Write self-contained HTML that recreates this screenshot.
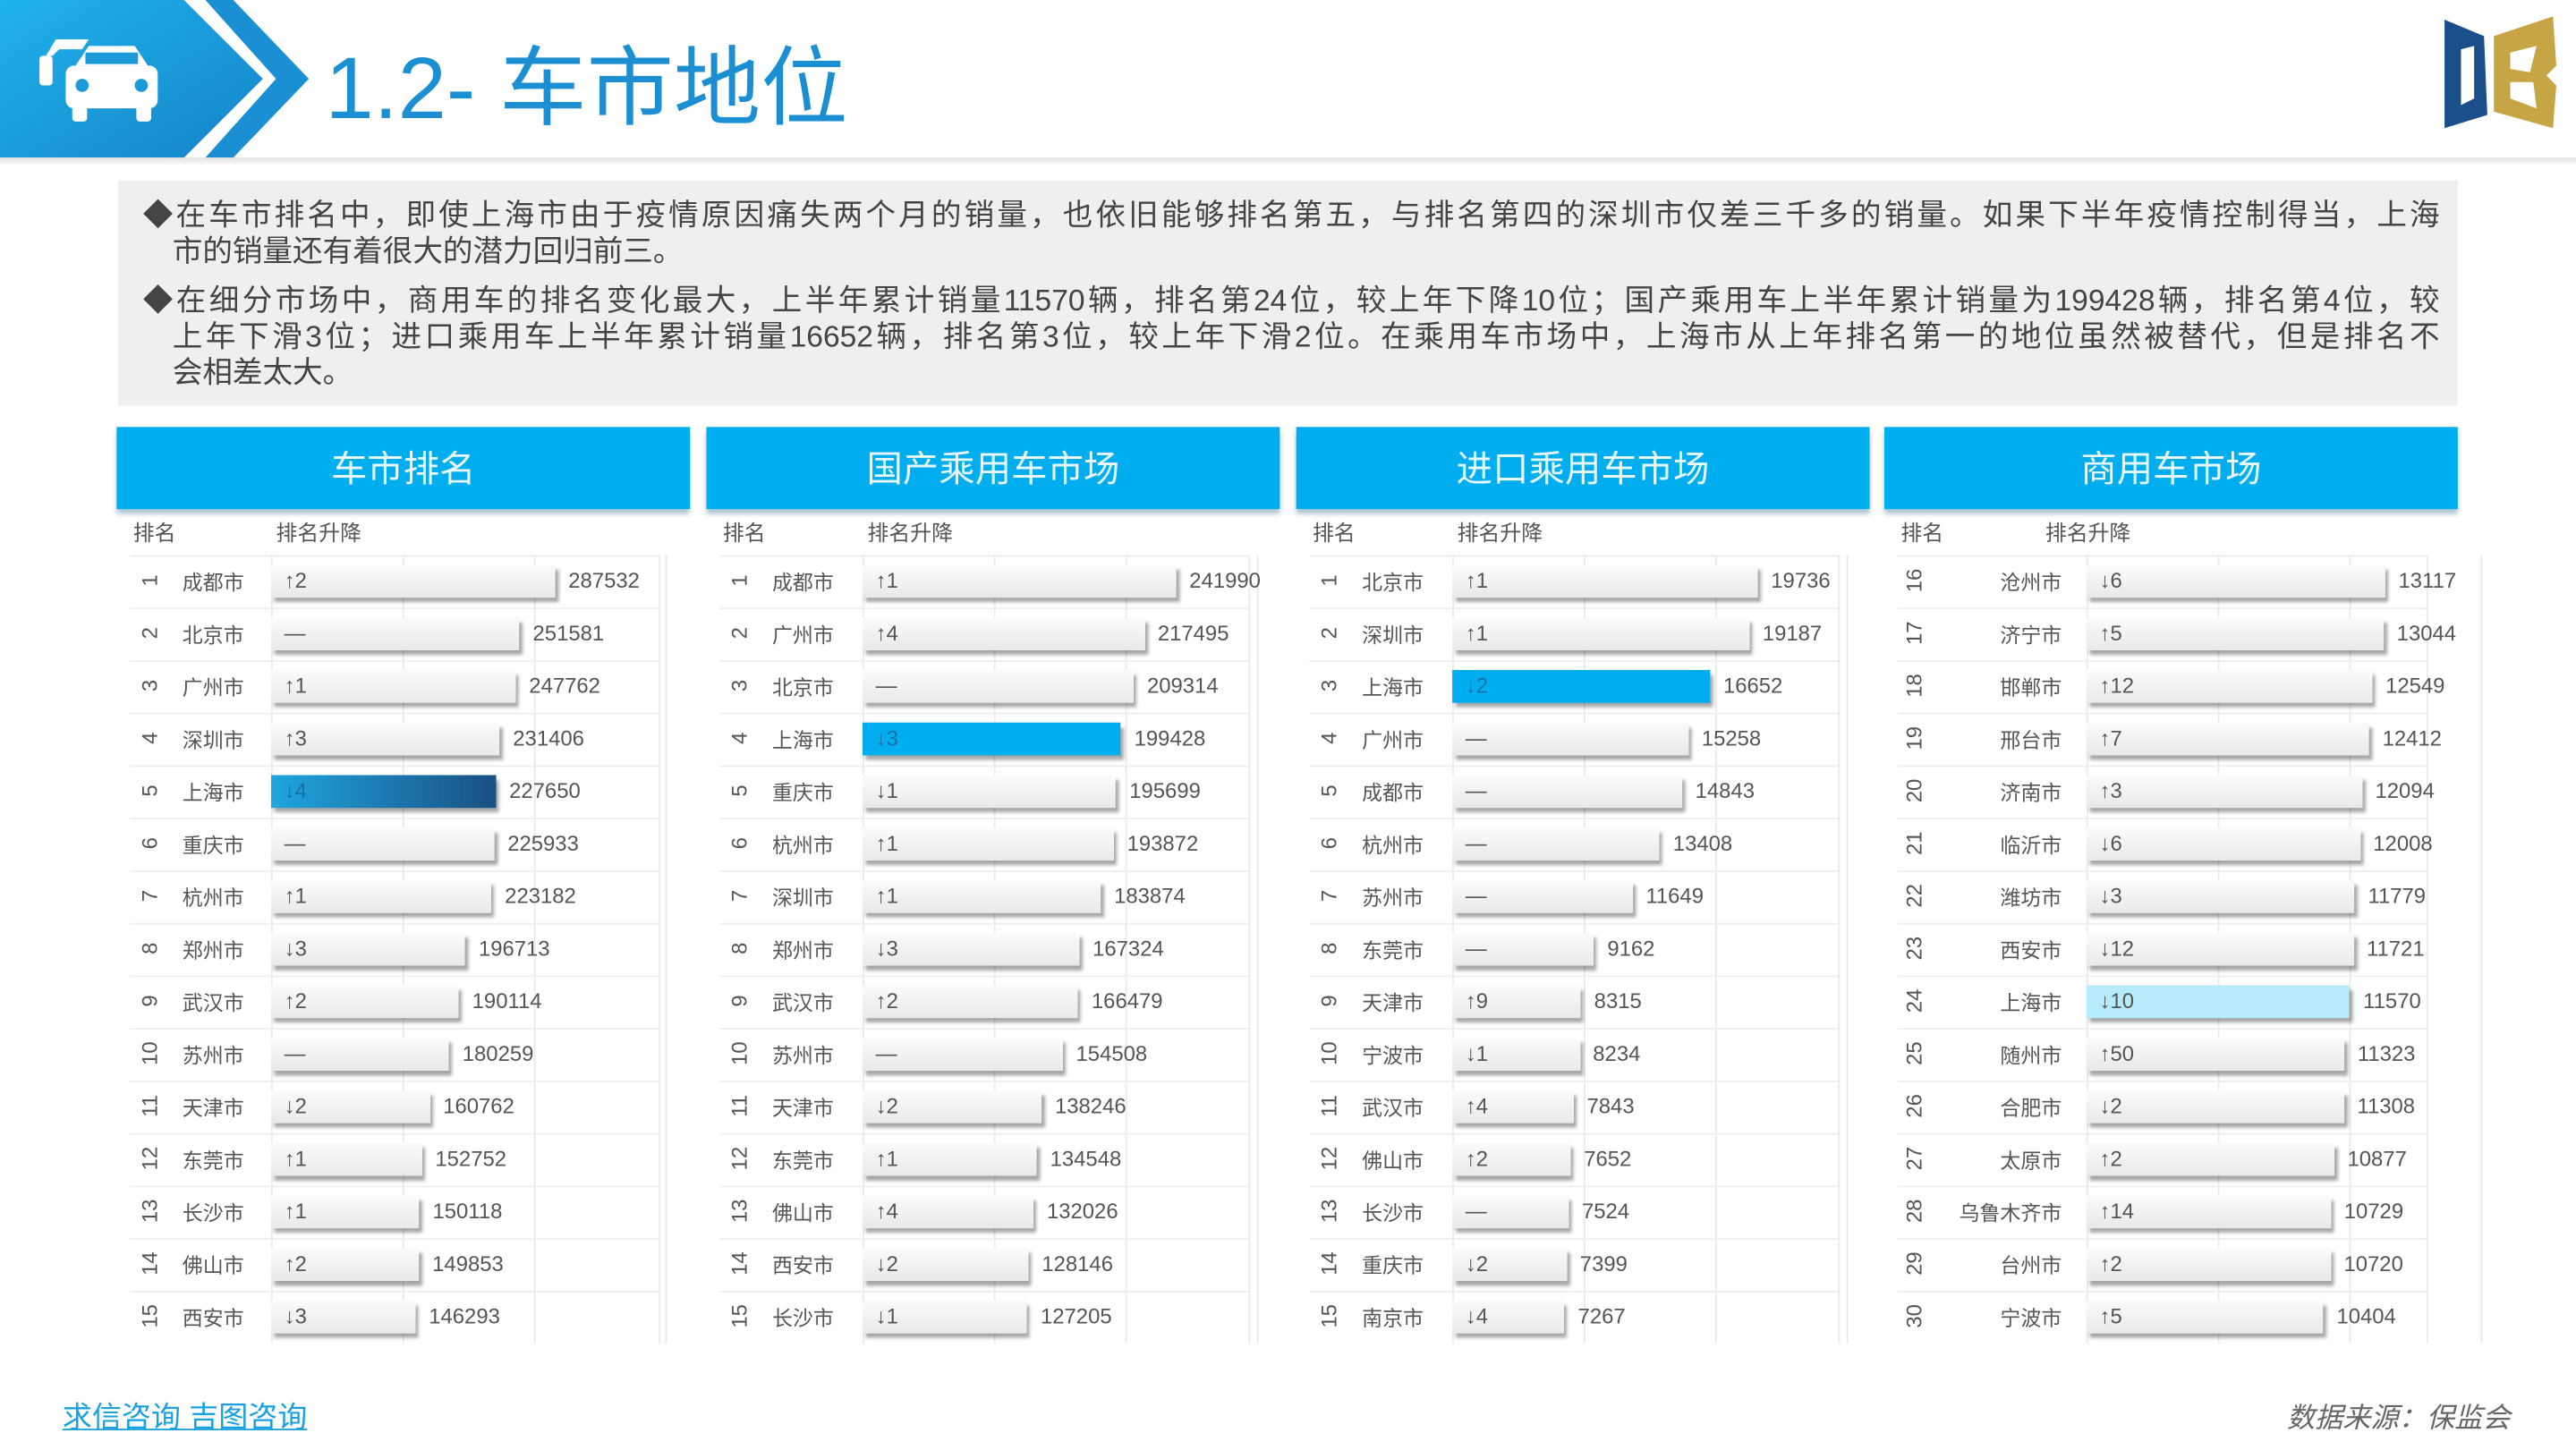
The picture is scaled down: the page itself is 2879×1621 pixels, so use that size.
<!DOCTYPE html>
<html><head><meta charset="utf-8">
<style>
html,body{margin:0;padding:0;background:#fff;}
body{width:2879px;height:1621px;overflow:hidden;position:relative;}
#stage{position:absolute;left:0;top:0;width:1568px;height:883px;transform:scale(1.8361,1.8358);transform-origin:0 0;font-family:"Liberation Sans","Noto Sans CJK SC",sans-serif;}
.abs{position:absolute;}
#title{left:198px;top:20px;font-size:53px;color:#1b8fd2;white-space:nowrap;letter-spacing:0px;line-height:70px;}
#rule{left:0;top:96px;width:1568px;height:4px;background:linear-gradient(#e4e4e4,#f7f7f7);}
#textbox{left:72px;top:110px;width:1424px;height:137px;background:#efefef;}
.tl{position:absolute;left:15px;width:1398px;font-size:18.3px;color:#444;white-space:nowrap;text-align:justify;text-align-last:justify;line-height:22px;}
.tl.nj{text-align-last:left;}
.ph{position:absolute;top:260px;height:50px;width:349px;background:#00aeef;color:#e8f8ff;font-size:22px;text-align:center;line-height:52px;box-shadow:0 3px 3px rgba(0,80,120,.35);}
.sub{position:absolute;top:314px;font-size:13px;color:#555;}
.cell{position:absolute;font-size:12.5px;color:#555;white-space:nowrap;}
.bar{position:absolute;height:20px;background:linear-gradient(#fbfbfb,#e9e9e9);box-shadow:2px 3px 2px rgba(0,0,0,.35);}
.chg{position:absolute;font-size:13px;color:#555;}
.val{position:absolute;font-size:13px;color:#555;}
.rank{position:absolute;font-size:13px;color:#555;transform:rotate(-90deg);width:24px;text-align:center;}
.hl{position:absolute;background:#eee;}
.vl{position:absolute;background:#eaeaea;width:1px;}
</style></head><body>
<div id="stage">
<svg class="abs" style="left:0;top:0" width="200" height="100">
<defs><linearGradient id="hg" x1="0" y1="0" x2="1" y2="1"><stop offset="0" stop-color="#1fb2ec"/><stop offset="1" stop-color="#1584c8"/></linearGradient></defs>
<polygon points="0,0 112,0 160,48 112,96 0,96" fill="url(#hg)"/>
<polygon points="125,0 142,0 188,48 142,96 125,96 168,48" fill="#1a8fd4"/>
<g fill="#fff">
<rect x="40" y="40" width="56" height="26" rx="5"/><polygon points="46,40 54,28 82,28 90,40"/><rect x="44" y="62" width="9" height="12" rx="2"/><rect x="83" y="62" width="9" height="12" rx="2"/>
<rect x="24" y="34" width="8" height="18" rx="2"/><polygon points="28,34 34,24 54,24 50,30 36,30 32,34"/>
</g>
<g fill="#1a9ad9"><circle cx="50" cy="52" r="4"/><circle cx="86" cy="52" r="4"/><rect x="52" y="32" width="32" height="7"/></g>
</svg>
<div id="title" class="abs">1.2- 车市地位</div>
<svg class="abs" style="left:1484px;top:6px" width="76" height="78">
<path d="M4,6 L28,16 L30,64 L4,72 Z M14,24 L14,58 L22,54 L22,22 Z" fill="#1a4f8a" fill-rule="evenodd"/>
<path d="M34,16 L70,4 L72,34 L66,40 L72,46 L70,72 L34,62 Z M44,26 L44,36 L56,38 L60,22 Z M44,44 L44,54 L60,60 L58,44 Z" fill="#c6a544" fill-rule="evenodd"/>
</svg>
<div id="rule" class="abs"></div>
<div id="textbox" class="abs">
<div class="tl" style="top:10px">◆在车市排名中，即使上海市由于疫情原因痛失两个月的销量，也依旧能够排名第五，与排名第四的深圳市仅差三千多的销量。如果下半年疫情控制得当，上海</div>
<div class="tl nj" style="top:32px;left:33px">市的销量还有着很大的潜力回归前三。</div>
<div class="tl" style="top:62px">◆在细分市场中，商用车的排名变化最大，上半年累计销量11570辆，排名第24位，较上年下降10位；国产乘用车上半年累计销量为199428辆，排名第4位，较</div>
<div class="tl" style="top:84px;left:33px;width:1380px">上年下滑3位；进口乘用车上半年累计销量16652辆，排名第3位，较上年下滑2位。在乘用车市场中，上海市从上年排名第一的地位虽然被替代，但是排名不</div>
<div class="tl nj" style="top:106px;left:33px">会相差太大。</div>
</div>
<div id="panels"></div>
<div class="abs" style="left:38px;top:849px;font-size:18px;color:#1aa0e0;text-decoration:underline;white-space:nowrap">求信咨询 吉图咨询</div>
<div class="abs" style="left:1392px;top:849px;font-size:17px;color:#666;font-style:italic;white-space:nowrap">数据来源：保监会</div>
</div>
<script>
const titles1 = ["车市排名","国产乘用车市场","进口乘用车市场","商用车市场"];
const ranksA = [1,2,3,4,5,6,7,8,9,10,11,12,13,14,15];
const ranksD = [16,17,18,19,20,21,22,23,24,25,26,27,28,29,30];
const cities1 = ["成都市","北京市","广州市","深圳市","上海市","重庆市","杭州市","郑州市","武汉市","苏州市","天津市","东莞市","长沙市","佛山市","西安市"];
const changes1 = ["↑2","—","↑1","↑3","↓4","—","↑1","↓3","↑2","—","↓2","↑1","↑1","↑2","↓3"];
const values1 = [287532,251581,247762,231406,227650,225933,223182,196713,190114,180259,160762,152752,150118,149853,146293];
const cities2 = ["成都市","广州市","北京市","上海市","重庆市","杭州市","深圳市","郑州市","武汉市","苏州市","天津市","东莞市","佛山市","西安市","长沙市"];
const changes2 = ["↑1","↑4","—","↓3","↓1","↑1","↑1","↓3","↑2","—","↓2","↑1","↑4","↓2","↓1"];
const values2 = [241990,217495,209314,199428,195699,193872,183874,167324,166479,154508,138246,134548,132026,128146,127205];
const cities3 = ["北京市","深圳市","上海市","广州市","成都市","杭州市","苏州市","东莞市","天津市","宁波市","武汉市","佛山市","长沙市","重庆市","南京市"];
const changes3 = ["↑1","↑1","↓2","—","—","—","—","—","↑9","↓1","↑4","↑2","—","↓2","↓4"];
const values3 = [19736,19187,16652,15258,14843,13408,11649,9162,8315,8234,7843,7652,7524,7399,7267];
const cities4 = ["沧州市","济宁市","邯郸市","邢台市","济南市","临沂市","潍坊市","西安市","上海市","随州市","合肥市","太原市","乌鲁木齐市","台州市","宁波市"];
const changes4 = ["↓6","↑5","↑12","↑7","↑3","↓6","↓3","↓12","↓10","↑50","↓2","↑2","↑14","↑2","↑5"];
const values4 = [13117,13044,12549,12412,12094,12008,11779,11721,11570,11323,11308,10877,10729,10720,10404];
const domainMax = [307500,234400,19630,13340];

const panelX = [71,430,789,1147];
const barOff = [94,95,95,123];
const BARW = 185, ROW0 = 338, ROWH = 32;
const highlight = [{i:4,bg:"linear-gradient(90deg,#1fa6e0,#1a4f82)"},{i:3,bg:"#00aeef"},{i:2,bg:"#00aeef"},{i:8,bg:"#b5ebfb"}];
const all = [[ranksA,cities1,changes1,values1],[ranksA,cities2,changes2,values2],[ranksA,cities3,changes3,values3],[ranksD,cities4,changes4,values4]];
const host = document.getElementById('panels');
function xScale(p,v){return v/domainMax[p]*BARW;}
function yRow(i){return ROW0+i*ROWH;}
function mk(cls,css,txt){const d=document.createElement('div');d.className=cls;Object.assign(d.style,css);if(txt!==undefined)d.textContent=txt;host.appendChild(d);return d;}
for(let p=0;p<4;p++){
  const px=panelX[p], [rk,ct,ch,vl]=all[p];
  let e=mk('ph',{left:px+'px'},titles1[p]);
  
  
  e=mk('sub',{left:(px+10)+'px'},'排名');
  
  
  e=mk('sub',{left:(px+barOff[p]+3-(p==3?28:0))+'px'},'排名升降');
  
  
  const bx=px+barOff[p];
  const tableR=px+330;
  for(let k=0;k<4;k++){
    e=mk('vl',{left:(bx+k*80)+'px',top:ROW0+'px',height:(15*ROWH)+'px'});
    
    
  }
  e=mk('vl',{left:tableR+'px',top:ROW0+'px',height:(15*ROWH)+'px'});
  
  
  for(let i=0;i<15;i++){
    const y=yRow(i);
    e=mk('hl',{left:(px+8)+'px',top:y+'px',width:(tableR-px-8)+'px',height:'1px'});
    
    
    e=mk('rank',{left:(px+(p==3?6:8))+'px',top:(y+8)+'px'},String(rk[i]));
    
    
    const cw = 110;
    e=mk('cell',{left:(bx-cw-15)+'px',width:cw+'px',textAlign:'right',top:(y+6)+'px'},ct[i]);
    if(p!=3){e.style.textAlign='left';e.style.left=(px+40)+'px';}
    
    
    const w=xScale(p,vl[i]);
    e=mk('bar',{left:bx+'px',top:(y+6)+'px',width:w+'px'});
    const h=highlight[p];
    if(h.i===i){e.style.background=h.bg;}
    
    
    e=mk('chg',{left:(bx+8)+'px',top:(y+8)+'px'},ch[i]);
    if(h.i===i&&p<3)e.style.color='#1b6fa8';
    
    
    e=mk('val',{left:(bx+w+8)+'px',top:(y+8)+'px'},String(vl[i]));
    
    
  }
}
</script>
</body></html>
